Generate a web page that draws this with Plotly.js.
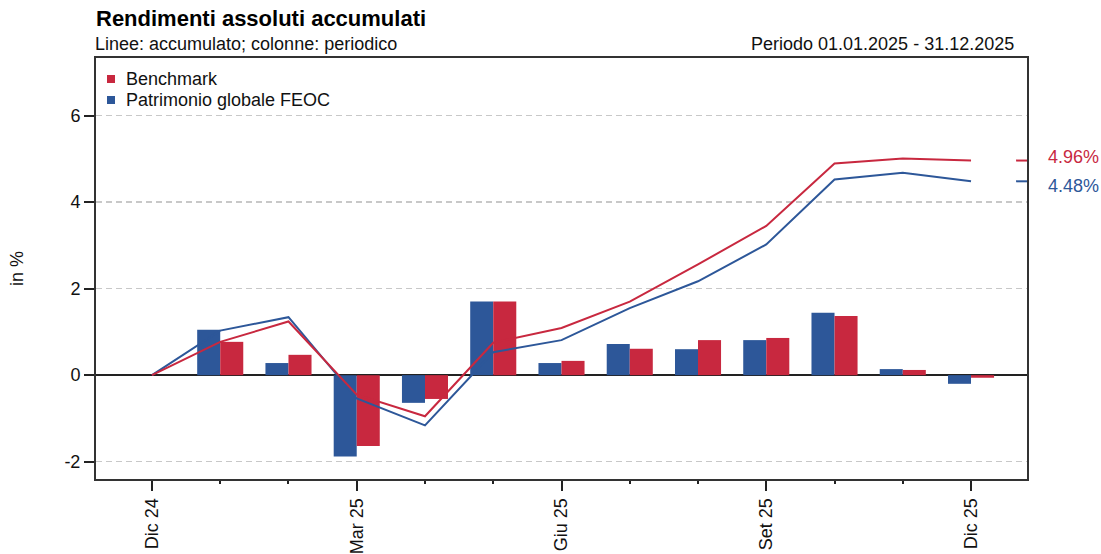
<!DOCTYPE html>
<html><head><meta charset="utf-8">
<script src="https://cdn.plot.ly/plotly-3.0.1.min.js"></script>
<style>html,body{margin:0;padding:0;background:#fff}#chart{width:1101px;height:554px}</style>
</head><body><div id="chart"></div>
<script>
// month index: 0 = Dic 24 ... 12 = Dic 25
const months = [0,1,2,3,4,5,6,7,8,9,10,11,12];
const barMonths = [1,2,3,4,5,6,7,8,9,10,11,12];
const tickVals = [0,3,6,9,12];
const tickText = ["Dic 24","Mar 25","Giu 25","Set 25","Dic 25"];
const cumFund  = [0,1.03,1.34,-0.54,-1.16,0.53,0.81,1.55,2.17,3.02,4.52,4.68,4.48];
const cumBench = [0,0.77,1.24,-0.45,-0.95,0.75,1.09,1.70,2.56,3.45,4.89,5.01,4.96];
const perFund  = [1.05,0.28,-1.88,-0.64,1.70,0.28,0.72,0.60,0.81,1.44,0.14,-0.20];
const perBench = [0.77,0.47,-1.64,-0.55,1.70,0.33,0.61,0.81,0.86,1.37,0.12,-0.06];
const legendNames = ["Benchmark","Patrimonio globale FEOC"];

const RED = "#C8283F", BLUE = "#2D5799";
const legendColors = [RED, BLUE];
const FONT = "Arial, 'Liberation Sans', sans-serif";
const lastF = cumFund[cumFund.length-1], lastB = cumBench[cumBench.length-1];
const endX = [12.66, 12.82];

const traces = [
  {type:"bar", x:barMonths, y:perFund, marker:{color:BLUE}, showlegend:false, hoverinfo:"skip"},
  {type:"bar", x:barMonths, y:perBench, marker:{color:RED}, showlegend:false, hoverinfo:"skip"},
  {type:"scatter", mode:"lines", x:months, y:cumFund, line:{color:BLUE, width:2}, showlegend:false},
  {type:"scatter", mode:"lines", x:months, y:cumBench, line:{color:RED, width:2}, showlegend:false},
  {type:"scatter", mode:"lines", x:endX, y:[lastF,lastF], line:{color:BLUE, width:2}, showlegend:false, cliponaxis:false},
  {type:"scatter", mode:"lines", x:endX, y:[lastB,lastB], line:{color:RED, width:2}, showlegend:false, cliponaxis:false}
];

// legend drawn as paper-positioned squares + text
const PW = 931, PH = 421;
const legShapes = [], legAnn = [];
legendNames.forEach((n, i) => {
  const cy = 79 + 21*i - 58; // px from plot top
  legShapes.push({type:"rect", xref:"paper", yref:"paper", x0:11/PW, x1:19/PW, y0:1-(cy-4)/PH, y1:1-(cy+4)/PH, fillcolor:legendColors[i], line:{width:0}});
  legAnn.push({xref:"paper", yref:"paper", x:31/PW, y:1-cy/PH, xanchor:"left", yanchor:"middle", xshift:-3, text:n, showarrow:false, font:{size:18, color:"#111"}});
});

const layout = {
  width:1101, height:554,
  margin:{l:96, r:74, t:58, b:75},
  paper_bgcolor:"#fff", plot_bgcolor:"#fff",
  font:{family:FONT, size:18, color:"#111"},
  barmode:"group", bargap:0.325, bargroupgap:0,
  showlegend:false,
  title:{text:"<b>Rendimenti assoluti accumulati</b>", font:{size:22, family:FONT, color:"#000"}, xref:"paper", x:0, xanchor:"left", yref:"container", y:1-18/554, yanchor:"middle"},
  xaxis:{
    range:[-0.82,12.82], tickmode:"array", tickvals:tickVals, ticktext:tickText, tickangle:-90,
    ticks:"outside", ticklen:10, tickwidth:2, tickcolor:"#222",
    minor:{tickmode:"array", tickvals:months, ticks:"outside", ticklen:3, tickwidth:2, tickcolor:"#222", showgrid:false},
    showgrid:false, zeroline:false, showline:true, mirror:true, linecolor:"#333", linewidth:2,
    tickfont:{size:18}, fixedrange:true
  },
  yaxis:{
    range:[-2.40,7.33], tickmode:"array", tickvals:[-2,0,2,4,6], ticktext:["-2","0","2","4","6"],
    ticks:"outside", ticklen:10, tickwidth:2, tickcolor:"#222",
    showgrid:true, gridcolor:"#c8c8c8", griddash:"6px,4px", gridwidth:1.5,
    zeroline:true, zerolinecolor:"#222", zerolinewidth:2,
    showline:true, mirror:true, linecolor:"#333", linewidth:2,
    title:{text:"in %", font:{size:18}, standoff:36}, tickfont:{size:18}, fixedrange:true
  },
  shapes: legShapes,
  annotations:[
    {xref:"paper", yref:"paper", x:0, y:1.034, xanchor:"left", yanchor:"middle", xshift:-3, text:"Linee: accumulato; colonne: periodico", showarrow:false, font:{size:18, color:"#111"}},
    {xref:"paper", yref:"paper", x:0.9853, y:1.034, xanchor:"right", yanchor:"middle", xshift:3, text:"Periodo 01.01.2025 - 31.12.2025", showarrow:false, font:{size:18, color:"#111"}},
    {xref:"paper", yref:"y", x:1, y:lastB, xanchor:"left", yanchor:"middle", xshift:19, yshift:4, text:lastB.toFixed(2)+"%", showarrow:false, font:{size:18, color:RED}},
    {xref:"paper", yref:"y", x:1, y:lastF, xanchor:"left", yanchor:"middle", xshift:19, yshift:-5, text:lastF.toFixed(2)+"%", showarrow:false, font:{size:18, color:BLUE}}
  ].concat(legAnn)
};
Plotly.newPlot("chart", traces, layout, {displayModeBar:false, staticPlot:true});
</script></body></html>
